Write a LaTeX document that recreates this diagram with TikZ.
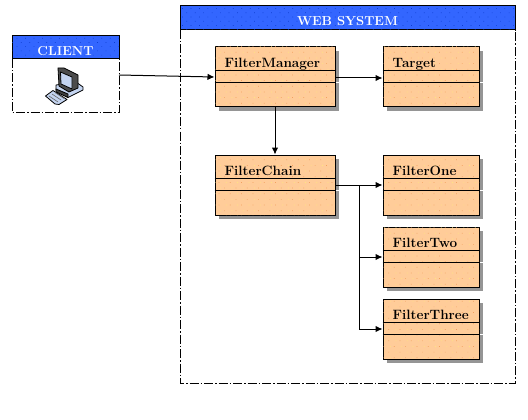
\documentclass[tikz,border=0pt]{standalone}
\usetikzlibrary{patterns.meta,shadows,arrows.meta}
\definecolor{hdrblue}{HTML}{3366FF}
\definecolor{hdrdot}{HTML}{0F3FD0}
\definecolor{boxorange}{HTML}{FFCC99}
\definecolor{dotyellow}{HTML}{FFE680}
\definecolor{dotorange}{HTML}{F2A060}
\definecolor{shadowgray}{HTML}{959595}
\definecolor{iconblue}{HTML}{C4D4F0}
\tikzset{
  border/.style={draw=black,line width=1pt,dash pattern=on 9pt off 2pt on 1.5pt off 2pt},
  titlebar/.style={draw=black,line width=1pt,fill=hdrblue,
    postaction={pattern={Dots[distance=6pt,angle=45,radius=.5pt]},pattern color=hdrdot},
    inner sep=0pt},
  titletext/.style={text=white,font=\bfseries\fontsize{13}{13}\selectfont,inner sep=0pt},
  classbox/.style={rectangle,draw=black,line width=1pt,fill=boxorange,minimum height=60pt,
    drop shadow={shadow xshift=3.5pt,shadow yshift=-4pt,fill=shadowgray,opacity=1},
    postaction={pattern={Dots[distance=8pt,angle=45,radius=.5pt]},pattern color=dotyellow},
    postaction={pattern={Dots[distance=8pt,angle=45,radius=.5pt,xshift=4pt]},pattern color=dotorange},
    inner sep=0pt},
  wide/.style={classbox,minimum width=120pt},
  narrow/.style={classbox,minimum width=96pt},
  classname/.style={font=\bfseries\fontsize{13.5}{13.5}\selectfont,anchor=base west,inner sep=0pt},
  member/.style={draw=black,line width=1pt},
  link/.style={draw=black,line width=1pt,-{Latex[length=7pt,width=6.5pt]}},
  stem/.style={draw=black,line width=1pt},
  iconline/.style={draw=black,line width=.8pt,line join=round}
}
\newcommand{\classparts}[2]{%
  \node[classname] at ([xshift=10pt,yshift=-21pt]#1.north west) {#2};
  \draw[member] ([yshift=-24pt]#1.north west) -- ([yshift=-24pt]#1.north east);
  \draw[member] ([yshift=-36pt]#1.north west) -- ([yshift=-36pt]#1.north east);
  \draw[white,line width=.8pt] ([xshift=.5pt,yshift=-36pt]#1.north east) -- ([xshift=3.5pt,yshift=-36pt]#1.north east);
}
\begin{document}
\begin{tikzpicture}[x=1pt,y=-1pt]
\useasboundingbox (0,0) rectangle (528,420);
% containers
\draw[border] (12,59) -- (12,113) -- (119,113) -- (119,59);
\node[titlebar,minimum width=107pt,minimum height=23pt] (client) at (65.5,47.5) {};
\node[titletext] (clienttitle) at (65.5,51) {CLIENT};
\draw[border] (180,30) -- (180,383) -- (515,383) -- (515,30);
\node[titlebar,minimum width=335pt,minimum height=24pt] (web) at (347.5,18) {};
\node[titletext] (webtitle) at (347.5,21) {WEB SYSTEM};
% classes
\node[wide] (manager) at (275,77) {};
\node[narrow] (target) at (431,77) {};
\node[wide] (chain) at (275,185) {};
\node[narrow] (one) at (431,185) {};
\node[narrow] (two) at (431,257) {};
\node[narrow] (three) at (431,329) {};
\classparts{manager}{FilterManager}
\classparts{target}{Target}
\classparts{chain}{FilterChain}
\classparts{one}{FilterOne}
\classparts{two}{FilterTwo}
\classparts{three}{FilterThree}
% computer icon
\coordinate (clientport) at (119,75);
\draw[iconline,fill=iconblue] (56,85) -- (56,90) -- (68,97.5) -- (83,90) -- (83,87) -- (76,82) -- cycle;
\draw[iconline,fill=black!75] (56,89) -- (56,92) -- (68,97.5) -- (68,94) -- cycle;
\draw[iconline,fill=black!70] (58,68) -- (64,68) -- (78,75) -- (78,88) -- (69,92) -- (59,86) -- cycle;
\draw[iconline,fill=iconblue] (60.5,72) -- (72,77) -- (72,89) -- (61,84) -- cycle;
\draw[iconline,fill=iconblue] (45.5,96) -- (53,90.5) -- (67,99.5) -- (59,104.5) -- (55,104) -- cycle;
\draw[black!60,line width=.6pt] (49,96) -- (58,102) (52,94) -- (61,100) (55,92.5) -- (64,98.5);
% connectors
\draw[link] (clientport) -- (manager.west |- 0,77);
\draw[link] (manager.east |- 0,78) -- (target.west |- 0,78);
\draw[link] (manager.south) -- (chain.north);
\draw[link] (chain.east) -- (one.west);
\draw[stem] (chain.east) ++(0,.7) -- ++(24,0);
\coordinate (branch) at (359,185);
\draw[link] (branch) |- (two.west);
\draw[link] (branch) |- (three.west);
\end{tikzpicture}
\end{document}
